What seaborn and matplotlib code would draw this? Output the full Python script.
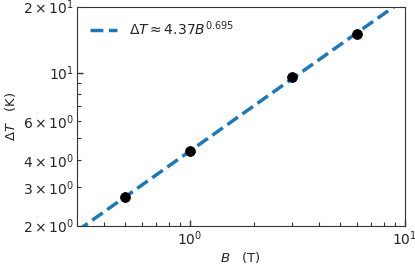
import numpy as np
import pandas as pd
import seaborn as sns
import matplotlib
matplotlib.use("Agg")
import matplotlib.pyplot as plt

B_vals = [0.5, 1.0, 3.0, 6.0]
dT_vals = [2.7, 4.4, 9.5, 15.0]
fit_A = 4.37
fit_n = 0.695
fit_B = [0.3, 10.0]

sns.set_style("ticks", {"xtick.direction": "in", "ytick.direction": "in"})
plt.rcParams['font.family'] = ['DejaVu Sans']

fig, ax = plt.subplots(figsize=(4.15, 2.67), dpi=100)
fit_df = pd.DataFrame({"B": fit_B, "dT": [fit_A * b ** fit_n for b in fit_B]})
sns.lineplot(data=fit_df, x="B", y="dT", ax=ax, color="#1f77b4", lw=2.5,
             linestyle="--", label=r"$\Delta T \approx 4.37B^{0.695}$")
pts = pd.DataFrame({"B": B_vals, "dT": dT_vals})
sns.scatterplot(data=pts, x="B", y="dT", ax=ax, color="black", s=50, zorder=3,
                edgecolor="black", legend=False)
ax.set_xscale("log")
ax.set_yscale("log")
ax.set_xlim(0.3, 10)
ax.set_ylim(2, 20)
ax.set_xlabel(r"$B$   (T)", fontsize=9.5, labelpad=2)
ax.set_ylabel(r"$\Delta T$   (K)", fontsize=9.5, labelpad=3)
ax.tick_params(which="both", labelsize=10, direction="in", color=".2", pad=2.5)
ax.tick_params(which="major", length=4.5, width=1)
ax.tick_params(which="minor", length=3, width=0.8)
for s in ax.spines.values():
    s.set_color(".2")
ax.legend(loc="upper left", frameon=False, fontsize=10)
fig.subplots_adjust(left=0.186, right=0.975, top=0.975, bottom=0.155)
fig.savefig("out.png", dpi=100)
